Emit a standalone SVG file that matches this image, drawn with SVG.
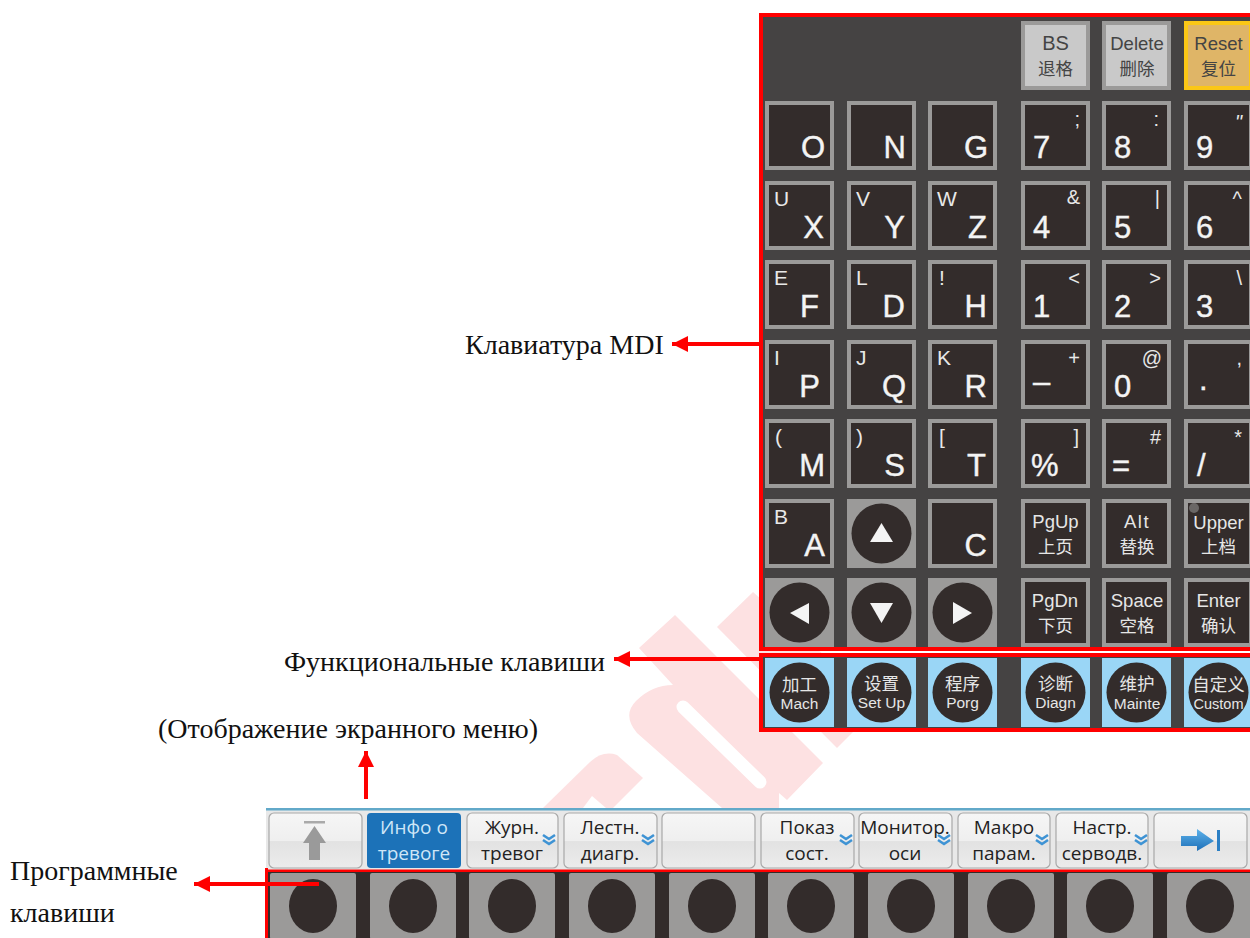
<svg xmlns="http://www.w3.org/2000/svg" xmlns:xlink="http://www.w3.org/1999/xlink" width="1250" height="938" viewBox="0 0 1250 938">
<style>
text{font-family:"Liberation Sans",Arial,sans-serif}
.lbl{font-family:"Liberation Serif","Times New Roman",serif;font-size:28px;fill:#111}
.m{font-size:31px;fill:#f4f4f4;text-anchor:end;stroke:#f4f4f4;stroke-width:.4}
.n{font-size:31px;fill:#f4f4f4;stroke:#f4f4f4;stroke-width:.4}
.s{font-size:21px;fill:#e8e8e8}
.y{font-size:20px;fill:#e8e8e8;text-anchor:end}
.t{font-size:18.500px;fill:#e6e6e6;text-anchor:middle}
.c{font-family:"Noto Sans CJK SC","Liberation Sans",sans-serif;font-size:17.500px;fill:#e6e6e6;text-anchor:middle}
.d{fill:#444}
.f{font-size:15.500px;fill:#e6e6e6;text-anchor:middle}
.b{font-family:"Open Sans","Noto Sans",sans-serif;font-size:19px;fill:#222;text-anchor:middle}
.w{fill:#cfe6f7}
.hit{fill:url(#btn);stroke:#a8a8a8;stroke-width:1.2}
.arr{fill:none;stroke:#f00;stroke-width:4;marker-end:url(#head)}
.wm{fill:#fde1e2}
</style>
<defs>
<linearGradient id="btn" x1="0" y1="0" x2="0" y2="1"><stop offset="0" stop-color="#f6f6f6"/><stop offset=".5" stop-color="#efefef"/><stop offset=".52" stop-color="#e2e2e2"/><stop offset="1" stop-color="#ececec"/></linearGradient>
<linearGradient id="blu" x1="0" y1="0" x2="0" y2="1"><stop offset="0" stop-color="#5db2ea"/><stop offset="1" stop-color="#1d6fb8"/></linearGradient>
<marker id="head" markerUnits="userSpaceOnUse" markerWidth="17" markerHeight="17" refX="16" refY="8" orient="auto"><polygon points="0,0 16,8 0,16" fill="#f00"/></marker>
<rect id="k" x="2" y="2" width="65" height="65" fill="#332c2b" stroke="#9b9a99" stroke-width="4"/>
<rect id="g" x="2" y="2" width="65" height="65" fill="#c9c9c9" stroke="#9b9a99" stroke-width="4"/>
<g id="ar"><rect width="69" height="69" fill="#9b9a99"/><circle cx="34.500" cy="34.500" r="30" fill="#332c2b"/></g>
<g id="fn"><rect width="69" height="69" fill="#9ad6f6"/><circle cx="34.500" cy="34.500" r="30" fill="#332c2b"/></g>
<g id="sk"><rect width="86" height="66" rx="2" fill="#9b9a99"/><ellipse cx="43" cy="33" rx="24" ry="27" fill="#332c2b"/></g>
<path id="ch" d="M-6,0 L0,4 L6,0 M-6,5 L0,9 L6,5" fill="none" stroke="#3e93d4" stroke-width="2.600"/>
</defs>

<g id="watermark">
<path class="wm" d="M639,648 L675,615 L823,763 L787,800 L779,793 L779,808 L722,808 L637,733 Q622,715 636,701 Q652,685 673,685 Z"/>
<polygon class="wm" points="717,627 753,592 880,705 837,748"/>
<path class="wm" d="M543,808 L590,762 Q603,750 617,755 L643,778 L613,808 Z"/>
<path d="M683,707 L760,782" stroke="#fff" stroke-width="13" stroke-linecap="round" fill="none"/>
<path d="M583,808 L592,796 L606,808 Z" fill="#fff"/>
</g>

<g id="mdi-panel">
<rect x="761" y="15" width="600" height="634" fill="#454343" stroke="#f00" stroke-width="4"/>
</g>
<g id="fn-panel">
<rect x="761" y="655" width="600" height="75" fill="#454343" stroke="#f00" stroke-width="4"/>
</g>

<g id="key-BS" transform="translate(1021,21)"><use href="#g"/><text class="t d" x="34.500" y="29" style="font-size:20px">BS</text><text class="c d" x="34.500" y="54">退格</text></g>
<g id="key-Delete" transform="translate(1102,21)"><use href="#g"/><text class="t d" x="35" y="29">Delete</text><text class="c d" x="35" y="54">删除</text></g>
<g id="key-Reset" transform="translate(1184,21)"><rect x="2" y="2" width="65" height="65" fill="#dfb567" stroke="#fbc716" stroke-width="4"/><text class="t d" x="34.500" y="29">Reset</text><text class="c d" x="34.500" y="54">复位</text></g>

<g id="key-O" transform="translate(765,101)"><use href="#k"/><text class="m" x="60" y="57">O</text></g>
<g id="key-N" transform="translate(847,101)"><use href="#k"/><text class="m" x="59" y="57">N</text></g>
<g id="key-G" transform="translate(928,101)"><use href="#k"/><text class="m" x="60" y="57">G</text></g>
<g id="key-7" transform="translate(1021,101)"><use href="#k"/><text class="n" x="12" y="57">7</text><text class="y" x="59" y="25">;</text></g>
<g id="key-8" transform="translate(1102,101)"><use href="#k"/><text class="n" x="12" y="57">8</text><text class="y" x="57" y="25">:</text></g>
<g id="key-9" transform="translate(1184,101)"><use href="#k"/><text class="n" x="12" y="57">9</text><text class="y" x="58" y="28" font-style="italic">"</text></g>

<g id="key-X" transform="translate(765,181)"><use href="#k"/><text class="s" x="9" y="25">U</text><text class="m" x="59" y="57">X</text></g>
<g id="key-Y" transform="translate(847,181)"><use href="#k"/><text class="s" x="9" y="25">V</text><text class="m" x="58" y="57">Y</text></g>
<g id="key-Z" transform="translate(928,181)"><use href="#k"/><text class="s" x="9" y="25">W</text><text class="m" x="59" y="57">Z</text></g>
<g id="key-4" transform="translate(1021,181)"><use href="#k"/><text class="n" x="12" y="57">4</text><text class="y" x="59" y="23">&amp;</text></g>
<g id="key-5" transform="translate(1102,181)"><use href="#k"/><text class="n" x="12" y="57">5</text><text class="y" x="58" y="24">|</text></g>
<g id="key-6" transform="translate(1184,181)"><use href="#k"/><text class="n" x="12" y="57">6</text><text class="y" x="58" y="25">^</text></g>

<g id="key-F" transform="translate(765,260)"><use href="#k"/><text class="s" x="9" y="25">E</text><text class="m" x="54" y="57">F</text></g>
<g id="key-D" transform="translate(847,260)"><use href="#k"/><text class="s" x="9" y="25">L</text><text class="m" x="58" y="57">D</text></g>
<g id="key-H" transform="translate(928,260)"><use href="#k"/><text class="s" x="11" y="25">!</text><text class="m" x="59" y="57">H</text></g>
<g id="key-1" transform="translate(1021,260)"><use href="#k"/><text class="n" x="12" y="57">1</text><text class="y" x="59" y="25">&lt;</text></g>
<g id="key-2" transform="translate(1102,260)"><use href="#k"/><text class="n" x="12" y="57">2</text><text class="y" x="59" y="25">&gt;</text></g>
<g id="key-3" transform="translate(1184,260)"><use href="#k"/><text class="n" x="12" y="57">3</text><text class="y" x="58" y="25">\</text></g>

<g id="key-P" transform="translate(765,340)"><use href="#k"/><text class="s" x="9" y="25">I</text><text class="m" x="55" y="57">P</text></g>
<g id="key-Q" transform="translate(847,340)"><use href="#k"/><text class="s" x="9" y="25">J</text><text class="m" x="59" y="57">Q</text></g>
<g id="key-R" transform="translate(928,340)"><use href="#k"/><text class="s" x="9" y="25">K</text><text class="m" x="59" y="57">R</text></g>
<g id="key-minus" transform="translate(1021,340)"><use href="#k"/><text class="n" x="12" y="52">–</text><text class="y" x="59" y="25">+</text></g>
<g id="key-0" transform="translate(1102,340)"><use href="#k"/><text class="n" x="12" y="57">0</text><text class="y" x="60" y="25">@</text></g>
<g id="key-dot" transform="translate(1184,340)"><use href="#k"/><text class="n" x="15" y="50">.</text><text class="y" x="58" y="25">,</text></g>

<g id="key-M" transform="translate(765,419)"><use href="#k"/><text class="s" x="10" y="25">(</text><text class="m" x="60" y="57">M</text></g>
<g id="key-S" transform="translate(847,419)"><use href="#k"/><text class="s" x="9" y="25">)</text><text class="m" x="58" y="57">S</text></g>
<g id="key-T" transform="translate(928,419)"><use href="#k"/><text class="s" x="11" y="25">[</text><text class="m" x="58" y="57">T</text></g>
<g id="key-percent" transform="translate(1021,419)"><use href="#k"/><text class="n" x="10" y="57">%</text><text class="y" x="58" y="25">]</text></g>
<g id="key-eq" transform="translate(1102,419)"><use href="#k"/><text class="n" x="10" y="57">=</text><text class="y" x="59" y="25">#</text></g>
<g id="key-slash" transform="translate(1184,419)"><use href="#k"/><text class="n" x="13" y="57">/</text><text class="y" x="58" y="25">*</text></g>

<g id="key-A" transform="translate(765,499)"><use href="#k"/><text class="s" x="9" y="25">B</text><text class="m" x="60" y="57">A</text></g>
<g id="key-up" transform="translate(847,499)"><use href="#ar"/><polygon points="34.500,24 46,43 23,43" fill="#f4f4f4"/></g>
<g id="key-C" transform="translate(928,499)"><use href="#k"/><text class="m" x="59" y="57">C</text></g>
<g id="key-PgUp" transform="translate(1021,499)"><use href="#k"/><text class="t" x="34.500" y="29">PgUp</text><text class="c" x="34.500" y="54">上页</text></g>
<g id="key-Alt" transform="translate(1102,499)"><use href="#k"/><text class="t" x="35" y="29" letter-spacing="1.500">Alt</text><text class="c" x="35" y="54">替换</text></g>
<g id="key-Upper" transform="translate(1184,499)"><use href="#k"/><circle cx="10" cy="9" r="5" fill="#6a6766"/><text class="t" x="34.500" y="30">Upper</text><text class="c" x="34.500" y="54">上档</text></g>

<g id="key-left" transform="translate(765,578)"><use href="#ar"/><polygon points="25,35 44,25 44,46" fill="#f4f4f4"/></g>
<g id="key-down" transform="translate(847,578)"><use href="#ar"/><polygon points="23,25 46,25 34.500,45" fill="#f4f4f4"/></g>
<g id="key-right" transform="translate(928,578)"><use href="#ar"/><polygon points="25,24 25,46 44,35" fill="#f4f4f4"/></g>
<g id="key-PgDn" transform="translate(1021,578)"><use href="#k"/><text class="t" x="34" y="29">PgDn</text><text class="c" x="34.500" y="54">下页</text></g>
<g id="key-Space" transform="translate(1102,578)"><use href="#k"/><text class="t" x="35" y="29">Space</text><text class="c" x="35" y="54">空格</text></g>
<g id="key-Enter" transform="translate(1184,578)"><use href="#k"/><text class="t" x="34.500" y="29">Enter</text><text class="c" x="34.500" y="54">确认</text></g>

<g id="fn-Mach" transform="translate(765,658)"><use href="#fn"/><text class="c" x="34.500" y="33">加工</text><text class="f" x="34.500" y="51">Mach</text></g>
<g id="fn-SetUp" transform="translate(847,658)"><use href="#fn"/><text class="c" x="34.500" y="32">设置</text><text class="f" x="34.500" y="50">Set Up</text></g>
<g id="fn-Porg" transform="translate(928,658)"><use href="#fn"/><text class="c" x="34.500" y="32">程序</text><text class="f" x="34.500" y="50">Porg</text></g>
<g id="fn-Diagn" transform="translate(1021,658)"><use href="#fn"/><text class="c" x="34.500" y="32">诊断</text><text class="f" x="34.500" y="50">Diagn</text></g>
<g id="fn-Mainte" transform="translate(1102,658)"><use href="#fn"/><text class="c" x="35" y="32">维护</text><text class="f" x="35" y="51">Mainte</text></g>
<g id="fn-Custom" transform="translate(1184,658)"><use href="#fn"/><text class="c" x="34.500" y="33">自定义</text><text class="f" x="34.500" y="51" style="font-size:14.500px">Custom</text></g>

<g id="toolbar">
<rect x="266" y="808" width="984" height="62" fill="#e8e8e8"/>
<rect x="266" y="808" width="984" height="2.500" fill="#62a9c9"/>
</g>
<g id="btn-top"><rect class="hit" x="269" y="813" width="93" height="55" rx="5"/><rect x="304" y="821" width="21" height="2.500" fill="#aaa"/><polygon points="314.500,826 326,843 320,843 320,860 309,860 309,843 303,843" fill="#9a9a9a"/></g>
<g id="btn-info"><rect x="367" y="813" width="94" height="55" rx="4" fill="#1c72b8"/><text class="b w" x="414" y="834">Инфо о</text><text class="b w" x="414" y="860">тревоге</text></g>
<g id="btn-log"><rect class="hit" x="467" y="813" width="91" height="55" rx="5"/><text class="b" x="512" y="834">Журн.</text><text class="b" x="512" y="860">тревог</text><use href="#ch" x="549" y="835"/></g>
<g id="btn-ladder"><rect class="hit" x="564" y="813" width="93" height="55" rx="5"/><text class="b" x="610" y="834">Лестн.</text><text class="b" x="610" y="860">диагр.</text><use href="#ch" x="648" y="835"/></g>
<g id="btn-empty"><rect class="hit" x="662" y="813" width="93" height="55" rx="5"/></g>
<g id="btn-status"><rect class="hit" x="761" y="813" width="93" height="55" rx="5"/><text class="b" x="807" y="834">Показ</text><text class="b" x="807" y="860">сост.</text><use href="#ch" x="846" y="835"/></g>
<g id="btn-monitor"><rect class="hit" x="859" y="813" width="93" height="55" rx="5"/><text class="b" x="905" y="834">Монитор.</text><text class="b" x="905" y="860">оси</text><use href="#ch" x="944" y="835"/></g>
<g id="btn-macro"><rect class="hit" x="958" y="813" width="92" height="55" rx="5"/><text class="b" x="1004" y="834">Макро</text><text class="b" x="1004" y="860">парам.</text><use href="#ch" x="1042" y="835"/></g>
<g id="btn-servo"><rect class="hit" x="1056" y="813" width="92" height="55" rx="5"/><text class="b" x="1102" y="834">Настр.</text><text class="b" x="1102" y="860">серводв.</text><use href="#ch" x="1141" y="835"/></g>
<g id="btn-next"><rect class="hit" x="1154" y="813" width="93" height="55" rx="5"/><polygon points="1181,836 1197,836 1197,829 1214,841 1197,851 1197,846 1181,846" fill="url(#blu)"/><rect x="1217" y="830" width="3" height="21" fill="#2b7fc4"/></g>

<g id="softkeys">
<rect x="266" y="870" width="984" height="68" fill="#332c2b"/>
<use href="#sk" x="270" y="873"/><use href="#sk" x="370" y="873"/><use href="#sk" x="469" y="873"/><use href="#sk" x="569" y="873"/><use href="#sk" x="669" y="873"/><use href="#sk" x="768" y="873"/><use href="#sk" x="868" y="873"/><use href="#sk" x="968" y="873"/><use href="#sk" x="1067" y="873"/><use href="#sk" x="1167" y="873"/>
</g>
<g id="softkey-frame" fill="#f00">
<rect x="265" y="868" width="3" height="70"/>
<rect x="265" y="869.500" width="985" height="2.500"/>
</g>

<g id="connectors">
<path class="arr" d="M761,344 H672"/>
<path class="arr" d="M761,659 H614"/>
<path class="arr" d="M366,799 V751"/>
<path class="arr" d="M319,884 H194"/>
</g>

<g id="labels">
<text class="lbl" x="465" y="354">Клавиатура MDI</text>
<text class="lbl" x="284" y="671">Функциональные клавиши</text>
<text class="lbl" x="158" y="738">(Отображение экранного меню)</text>
<text class="lbl" x="10" y="880">Программные</text>
<text class="lbl" x="10" y="922">клавиши</text>
</g>
</svg>
